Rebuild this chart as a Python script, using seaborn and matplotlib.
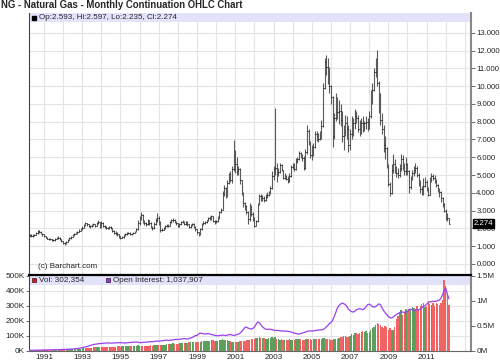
import matplotlib
matplotlib.use('Agg')
import matplotlib.pyplot as plt
import matplotlib.transforms as mtransforms
from matplotlib.patches import Rectangle
from matplotlib.ticker import FuncFormatter, MultipleLocator, FixedLocator
import numpy as np
import pandas as pd
import seaborn as sns

#=====DATA (monthly, Apr 1990 - Mar 2012)=====
first_year, first_month = 1990, 4
first_open = 1.60

close = [
    1.62, 1.58, 1.60, 1.65, 1.72, 1.85, 1.80, 1.74, 1.68,
    1.55, 1.48, 1.42, 1.40, 1.38, 1.35, 1.32, 1.40, 1.45, 1.48, 1.38, 1.28,
    1.18, 1.12, 1.25, 1.35, 1.45, 1.52, 1.62, 1.70, 1.75, 1.82, 1.88, 1.98,
    2.05, 2.18, 2.28, 2.22, 2.15, 2.12, 2.18, 2.22, 2.15, 2.28, 2.35, 2.10,
    2.30, 2.15, 2.10, 2.05, 2.00, 2.08, 2.00, 1.88, 1.72, 1.75, 1.68, 1.55,
    1.48, 1.50, 1.62, 1.68, 1.72, 1.75, 1.70, 1.68, 1.75, 1.82, 1.95, 2.30,
    2.55, 2.75, 2.40, 2.30, 2.25, 2.45, 2.30, 2.10, 2.00, 2.25, 2.45, 2.60,
    2.35, 1.90, 1.92, 2.00, 2.12, 2.18, 2.15, 2.35, 2.45, 2.50, 2.35, 2.30,
    2.15, 2.25, 2.35, 2.40, 2.25, 2.35, 2.22, 2.08, 2.18, 2.25, 2.12, 1.95,
    1.78, 1.65, 1.95, 2.25, 2.30, 2.35, 2.45, 2.60, 2.55, 2.68, 2.40, 2.35,
    2.40, 2.60, 2.90, 3.05, 3.95, 4.25, 3.80, 4.55, 5.05, 4.70, 5.35, 6.20,
    5.60, 5.20, 5.35, 4.70, 3.95, 3.40, 3.25, 2.95, 2.55, 3.05, 2.80, 2.60,
    2.15, 2.40, 3.35, 3.80, 3.65, 3.70, 3.60, 3.75, 3.85, 4.00, 4.25, 4.95,
    5.35, 5.40, 5.05, 5.15, 5.55, 5.30, 4.85, 4.95, 4.80, 4.65, 4.95, 5.45,
    5.50, 5.35, 5.80, 5.90, 6.25, 6.10, 5.95, 5.40, 6.30, 7.50, 6.90, 6.15,
    6.30, 6.55, 7.30, 7.10, 7.00, 7.25, 7.75, 9.90, 11.35, 11.10, 10.70, 10.00,
    9.40, 7.20, 8.20, 8.85, 8.55, 8.60, 8.10, 7.20, 7.50, 7.95, 7.60, 6.70,
    7.30, 7.60, 7.90, 8.30, 8.20, 7.60, 7.50, 7.95, 7.65, 7.90, 8.00, 7.80,
    8.30, 9.40, 9.80, 10.80, 11.30, 10.20, 9.00, 8.10, 7.60, 6.70, 6.50, 5.60,
    4.50, 4.00, 5.30, 5.60, 5.30, 5.10, 5.00, 5.40, 5.90, 5.50, 5.20, 5.60,
    5.20, 4.30, 4.80, 5.10, 5.30, 5.40, 5.00, 4.55, 4.20, 4.05, 4.40, 4.60,
    4.20, 3.90, 4.70, 4.95, 4.85, 4.75, 4.45, 4.20, 4.05, 3.70, 3.35, 3.00,
    2.60, 2.593, 2.274,
]

high = [
    1.70, 1.66, 1.66, 1.70, 1.78, 1.92, 1.90, 1.84, 1.76,
    1.70, 1.58, 1.50, 1.46, 1.44, 1.42, 1.38, 1.44, 1.50, 1.55, 1.50, 1.40,
    1.30, 1.22, 1.30, 1.40, 1.50, 1.58, 1.68, 1.76, 1.82, 1.88, 1.95, 2.05,
    2.12, 2.25, 2.35, 2.32, 2.26, 2.20, 2.24, 2.30, 2.26, 2.34, 2.45, 2.38,
    2.43, 2.35, 2.20, 2.14, 2.10, 2.15, 2.12, 2.05, 1.92, 1.85, 1.80, 1.70,
    1.58, 1.56, 1.66, 1.74, 1.80, 1.82, 1.78, 1.74, 1.80, 1.88, 2.05, 2.45,
    2.70, 2.94, 2.80, 2.45, 2.38, 2.55, 2.50, 2.35, 2.15, 2.35, 2.60, 2.86,
    2.70, 2.40, 2.00, 2.06, 2.18, 2.26, 2.24, 2.42, 2.52, 2.58, 2.55, 2.40,
    2.32, 2.30, 2.42, 2.48, 2.44, 2.42, 2.40, 2.26, 2.25, 2.32, 2.30, 2.15,
    1.98, 1.82, 2.00, 2.30, 2.40, 2.42, 2.50, 2.66, 2.68, 2.75, 2.70, 2.45,
    2.50, 2.70, 2.98, 3.15, 4.10, 4.45, 4.30, 4.70, 5.10, 5.20, 5.50, 6.97,
    6.40, 6.00, 5.50, 5.40, 4.70, 4.05, 3.50, 3.30, 3.00, 3.40, 3.30, 2.95,
    2.65, 2.50, 3.45, 3.95, 3.95, 3.90, 3.80, 3.95, 4.05, 4.10, 4.40, 5.20,
    5.50, 8.75, 5.70, 5.40, 5.70, 5.60, 5.30, 5.10, 5.00, 4.95, 5.10, 5.55,
    5.65, 5.70, 5.95, 6.00, 6.35, 6.30, 6.20, 6.05, 6.45, 7.80, 7.60, 6.90,
    6.70, 6.80, 7.50, 7.45, 7.35, 7.45, 8.10, 10.20, 11.60, 11.75, 11.60, 11.10,
    10.05, 9.45, 8.50, 9.60, 9.40, 9.20, 9.00, 8.60, 7.80, 8.40, 8.30, 7.80,
    7.60, 8.30, 8.20, 8.70, 8.60, 8.40, 8.10, 8.20, 8.30, 8.05, 8.30, 8.20,
    8.60, 9.80, 10.20, 11.00, 11.60, 12.05, 10.30, 9.60, 8.50, 7.80, 7.20, 6.60,
    5.60, 4.60, 5.60, 6.20, 5.90, 5.50, 5.40, 5.60, 6.20, 6.10, 5.70, 6.00,
    5.70, 5.30, 4.95, 5.30, 5.50, 5.65, 5.50, 5.10, 4.70, 4.40, 4.85, 4.90,
    4.70, 4.30, 4.90, 5.10, 5.05, 5.00, 4.80, 4.50, 4.25, 4.10, 3.75, 3.45,
    3.10, 2.85, 2.597,
]

low = [
    1.55, 1.52, 1.54, 1.58, 1.62, 1.70, 1.72, 1.68, 1.60,
    1.50, 1.44, 1.38, 1.36, 1.33, 1.30, 1.28, 1.30, 1.38, 1.42, 1.34, 1.22,
    1.12, 1.06, 1.10, 1.22, 1.32, 1.42, 1.50, 1.58, 1.66, 1.70, 1.78, 1.85,
    1.92, 2.00, 2.12, 2.15, 2.08, 2.05, 2.08, 2.12, 2.08, 2.12, 2.22, 2.02,
    2.05, 2.10, 2.05, 1.98, 1.94, 1.96, 1.94, 1.82, 1.66, 1.65, 1.60, 1.48,
    1.42, 1.44, 1.48, 1.60, 1.65, 1.68, 1.64, 1.62, 1.66, 1.72, 1.80, 1.92,
    2.20, 2.45, 2.30, 2.18, 2.15, 2.20, 2.20, 2.02, 1.92, 1.98, 2.20, 2.35,
    2.20, 1.82, 1.84, 1.90, 1.98, 2.08, 2.08, 2.12, 2.30, 2.38, 2.28, 2.18,
    2.08, 2.10, 2.20, 2.30, 2.18, 2.20, 2.15, 2.02, 2.02, 2.12, 2.05, 1.85,
    1.70, 1.60, 1.62, 1.90, 2.18, 2.24, 2.30, 2.40, 2.48, 2.50, 2.35, 2.25,
    2.28, 2.35, 2.55, 2.85, 3.05, 3.80, 3.70, 3.75, 4.50, 4.60, 4.55, 5.25,
    5.10, 5.00, 5.00, 4.50, 3.85, 3.20, 3.05, 2.80, 2.25, 2.40, 2.70, 2.40,
    2.10, 2.15, 2.35, 3.30, 3.55, 3.55, 3.50, 3.55, 3.70, 3.80, 3.95, 4.20,
    4.70, 5.00, 4.60, 4.95, 5.10, 5.20, 4.75, 4.80, 4.70, 4.55, 4.60, 4.90,
    5.35, 5.20, 5.30, 5.70, 5.85, 5.95, 5.80, 5.30, 5.35, 6.20, 6.70, 5.95,
    5.85, 6.05, 6.50, 6.90, 6.85, 6.95, 7.05, 7.70, 9.85, 10.60, 10.10, 9.60,
    9.00, 6.60, 7.05, 8.05, 8.15, 7.85, 7.75, 6.85, 6.40, 7.20, 7.05, 6.30,
    6.40, 7.00, 7.20, 7.60, 7.90, 7.40, 7.20, 7.30, 7.40, 7.45, 7.60, 7.50,
    7.60, 8.20, 9.00, 9.70, 10.50, 10.00, 8.50, 7.80, 7.30, 6.30, 5.90, 5.40,
    4.40, 3.80, 3.95, 5.10, 5.10, 4.90, 4.85, 4.90, 5.20, 5.30, 5.00, 5.00,
    5.00, 4.00, 4.20, 4.70, 4.95, 5.10, 4.90, 4.40, 4.00, 3.85, 3.90, 4.30,
    4.10, 3.80, 3.85, 4.60, 4.70, 4.55, 4.35, 4.05, 3.75, 3.50, 3.20, 2.95,
    2.45, 2.40, 2.235,
]

# volume, thousands of contracts
volume_k = [
    1, 1, 1, 2, 2, 2, 2, 2, 2,
    2, 2, 3, 3, 3, 3, 3, 4, 4, 4, 4, 5,
    5, 6, 6, 7, 7, 8, 8, 9, 10, 11, 12, 13,
    14, 15, 16, 17, 18, 19, 20, 21, 22, 22, 23, 24,
    22, 23, 22, 21, 22, 23, 24, 25, 24, 26, 27, 28,
    26, 28, 27, 28, 29, 30, 31, 30, 31, 32, 33, 35,
    32, 30, 29, 30, 31, 33, 32, 34, 33, 35, 36, 38,
    35, 37, 36, 38, 40, 42, 41, 43, 45, 47, 44, 46,
    45, 47, 48, 50, 52, 51, 53, 55, 54, 56, 58, 57,
    55, 58, 60, 62, 61, 63, 64, 66, 65, 67, 68, 66,
    64, 66, 68, 70, 75, 72, 70, 68, 66, 65, 60, 58,
    55, 58, 60, 62, 65, 63, 66, 68, 70, 72, 75, 78,
    80, 82, 85, 88, 84, 86, 83, 80, 78, 82, 85, 88,
    85, 90, 78, 75, 72, 74, 70, 72, 68, 70, 75, 72,
    70, 72, 75, 78, 74, 76, 72, 70, 74, 80, 78, 75,
    72, 76, 78, 74, 75, 78, 80, 82, 85, 80, 78, 75,
    72, 70, 75, 78, 80, 85, 88, 90, 95, 100, 92, 90,
    95, 110, 105, 115, 120, 112, 118, 125, 130, 122, 128, 120,
    125, 140, 150, 160, 170, 185, 175, 170, 160, 150, 165, 155,
    140, 150, 135, 140, 160, 210, 230, 250, 270, 240, 260, 275,
    260, 280, 270, 290, 285, 275, 295, 280, 300, 310, 320, 290,
    300, 330, 310, 305, 315, 300, 320, 310, 305, 320, 340, 470,
    430, 380, 302.354,
]

# open interest, thousands of contracts
open_int_k = [
    3, 4, 5, 6, 7, 8, 9, 10, 10,
    11, 12, 12, 13, 13, 14, 14, 15, 16, 17, 18, 19,
    20, 21, 22, 24, 26, 28, 30, 32, 35, 40, 45, 50,
    55, 62, 70, 80, 90, 100, 110, 120, 125, 130, 135, 140,
    140, 145, 148, 150, 152, 150, 148, 150, 152, 155, 158, 160,
    158, 155, 152, 150, 155, 158, 160, 162, 165, 168, 170, 165,
    160, 158, 162, 165, 168, 170, 172, 175, 178, 180, 185, 190,
    185, 190, 195, 200, 205, 210, 200, 205, 210, 215, 220, 225,
    220, 225, 230, 235, 240, 235, 230, 240, 250, 260, 280, 300,
    300, 330, 350, 345, 335, 330, 335, 340, 330, 320, 315, 305,
    300, 295, 300, 305, 310, 305, 300, 310, 315, 320, 310, 300,
    310, 320, 330, 350, 380, 420, 460, 470, 450, 440, 430, 440,
    470, 520, 570, 560, 520, 480, 450, 430, 420, 430, 425, 420,
    410, 400, 405, 400, 395, 390, 392, 388, 390, 385, 380, 370,
    360, 350, 340, 335, 330, 340, 350, 360, 370, 385, 390, 395,
    390, 395, 400, 405, 410, 412, 415, 420, 440, 470, 500, 540,
    560, 600, 680, 760, 850, 900, 930, 950, 940, 920, 880, 830,
    800, 780, 770, 790, 820, 830, 840, 830, 820, 840, 880, 920,
    930, 910, 880, 870, 880, 910, 935, 920, 860, 800, 760, 720,
    680, 660, 650, 670, 700, 720, 740, 760, 775, 770, 765, 770,
    780, 820, 830, 815, 800, 805, 815, 820, 830, 860, 890, 900,
    930, 960, 975, 980, 990, 985, 990, 1000, 1010, 1050, 1120, 1200,
    1250, 1130, 1037.907,
]

title = "NG - Natural Gas - Monthly Continuation OHLC Chart"
price_label = "Op:2.593, Hi:2.597, Lo:2.235, Cl:2.274"
vol_label = "Vol: 302,354"
oi_label = "Open Interest: 1,037,907"
last_label = "2.274"
price_ticks = list(range(0, 14))
year_labels = list(range(1991, 2012, 2))

#=====FRAME=====
n = len(close)
df = pd.DataFrame({
    "t": [first_year + (first_month - 1 + i) / 12 for i in range(n)],
    "close": close, "high": high, "low": low,
    "volume": np.array(volume_k) * 1000,
    "oi": np.array(open_int_k) * 1000,
})
df["open"] = [first_open] + close[:-1]
df["high"] = df[["high", "open", "close"]].max(axis=1)
df["low"] = df[["low", "open", "close"]].min(axis=1)
df["up"] = df["close"] >= df["open"]

#=====STYLE=====
sns.set_style("whitegrid", {"grid.color": "#e4e4e4", "axes.edgecolor": "#444"})
plt.rcParams['font.family'] = ['Liberation Sans', 'DejaVu Sans']
FS = 5.6

W, H = 500, 362
fig = plt.figure(figsize=(W / 100, H / 100), dpi=100)
px = lambda x0, y0, x1, y1: [x0 / W, 1 - y1 / H, (x1 - x0) / W, (y1 - y0) / H]

xlim = (1990.22, 2013.32)
years = np.arange(1991, 2014)

#=====PRICE PANEL=====
ax = fig.add_axes(px(29, 13, 471, 275))
ax.set_xlim(*xlim)
ax.set_ylim(-0.62, 14.11)
ax.vlines(df["t"], df["low"], df["high"], color="#5a5a5a", lw=0.8, zorder=3)
ax.hlines(df["open"], df["t"] - 0.035, df["t"], color="#111", lw=0.6, zorder=4)
ax.hlines(df["close"], df["t"], df["t"] + 0.035, color="#111", lw=0.6, zorder=4)

ax.yaxis.tick_right()
ax.yaxis.set_major_locator(FixedLocator(price_ticks))
ax.yaxis.set_major_formatter(FuncFormatter(lambda v, p: "%.3f" % v))
ax.set_xticks(years)
ax.tick_params(axis="x", length=0, labelbottom=False)
ax.tick_params(axis="y", length=3, width=0.6, color="#555", pad=0.8, labelsize=FS, right=True)
ax.grid(True, lw=0.8, color="#e4e4e4")
for s in ["top", "bottom"]:
    ax.spines[s].set_visible(False)
ax.spines["left"].set_color("#444")
ax.spines["left"].set_linewidth(0.8)
ax.spines["right"].set_color("#888")
ax.spines["right"].set_linewidth(1.5)

ax.add_patch(Rectangle((0, 1 - 9 / 262), 1, 9 / 262, transform=ax.transAxes,
                       color="#e2e2fb", zorder=1, lw=0))
ax.plot([0.0115], [1 - 4.5 / 262], marker="s", ms=3.2, color="black",
        transform=ax.transAxes, clip_on=False, zorder=5)
ax.text(10 / 442, 1 - 4.5 / 262, price_label, transform=ax.transAxes,
        fontsize=FS + 0.2, va="center", ha="left", zorder=5)
ax.text(9 / 442, 9 / 262, "(c) Barchart.com", transform=ax.transAxes,
        fontsize=FS + 0.2, va="center", ha="left")

trans = mtransforms.blended_transform_factory(ax.transAxes, ax.transData)
ax.text(1.006, close[-1], last_label, transform=trans, fontsize=FS, color="white",
        va="center", ha="left", zorder=10, clip_on=False,
        bbox=dict(boxstyle="square,pad=0.12", fc="black", ec="black"))

#=====VOLUME PANEL=====
axv = fig.add_axes(px(29, 275, 471, 350.5))
axv.set_xlim(*xlim)
axv.set_ylim(0, 505000)
bar_colors = np.where(df["up"], "#5c9e5c", "#f26464")
axv.bar(df["t"], df["volume"], width=0.07, color=bar_colors, lw=0, zorder=3)
axv.yaxis.set_major_locator(MultipleLocator(100000))
axv.yaxis.set_major_formatter(FuncFormatter(lambda v, p: "%dK" % round(v / 1000)))
axv.set_xticks(years)
axv.xaxis.set_major_formatter(FuncFormatter(
    lambda v, p: "%d" % v if int(round(v)) in year_labels else ""))
axv.tick_params(axis="x", length=0, pad=2.5, labelsize=FS + 0.3)
axv.tick_params(axis="y", length=2.5, width=0.6, color="#555", pad=0.5, labelsize=FS + 0.3, left=True)
axv.grid(True, lw=0.8, color="#e4e4e4")
axv.spines["top"].set_color("black")
axv.spines["top"].set_linewidth(1.6)
axv.spines["left"].set_color("#444")
axv.spines["left"].set_linewidth(0.8)
axv.spines["bottom"].set_color("#666")
axv.spines["bottom"].set_linewidth(0.8)
axv.spines["right"].set_color("#888")
axv.spines["right"].set_linewidth(1.5)
axv.add_patch(Rectangle((0, 1 - 10 / 75.5), 1, 9.5 / 75.5, transform=axv.transAxes,
                        color="#e2e2fb", zorder=1, lw=0))

axo = axv.twinx()
axo.set_ylim(0, 1515000)
sns.lineplot(data=df, x="t", y="oi", ax=axo, color="#9a40f0", lw=0.9, zorder=5)
axo.set_xlim(*xlim)
axo.set_ylabel("")
axo.set_xlabel("")
axv.set_xlabel("")
axo.grid(False)
axo.yaxis.set_major_locator(MultipleLocator(500000))
axo.yaxis.set_major_formatter(FuncFormatter(
    lambda v, p: "0M" if v == 0 else ("%gM" % (v / 1e6))))
axo.tick_params(axis="y", length=3, width=0.6, color="#555", pad=0.8, labelsize=FS + 0.3, right=True)
for s in axo.spines.values():
    s.set_visible(False)

ly = 1 - 5 / 75.5
axo.plot([4.5 / 442], [ly], marker="s", ms=3.2, color="#ee1111", mec="black", mew=0.4,
         transform=axo.transAxes, clip_on=False, zorder=6)
axo.text(10 / 442, ly, vol_label, transform=axo.transAxes, fontsize=FS + 0.3,
         va="center", ha="left", zorder=6)
axo.plot([79 / 442], [ly], marker="s", ms=3.2, color="#9a30f0", mec="black", mew=0.4,
         transform=axo.transAxes, clip_on=False, zorder=6)
axo.text(84 / 442, ly, oi_label, transform=axo.transAxes, fontsize=FS + 0.3,
         va="center", ha="left", zorder=6)

fig.text(1 / W, 1 - 5.5 / H, title, fontsize=6.9, fontweight="bold", va="center", ha="left")

fig.savefig("out.png", dpi=100)
